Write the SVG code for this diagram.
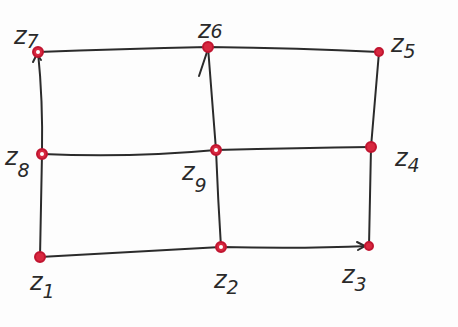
<svg xmlns="http://www.w3.org/2000/svg" width="458" height="327" viewBox="0 0 458 327">
<defs>
<style>
.e{fill:none;stroke:#2b2b2b;stroke-width:2;stroke-linecap:round}
.d{fill:#d8283f;stroke:#c01530;stroke-width:2}
.t{font-family:"DejaVu Sans","Liberation Sans",sans-serif;font-size:24px;fill:#2a2a2a;font-style:italic}
.s{font-size:19px}
</style>
</defs>
<rect width="458" height="327" fill="#fdfdfd"/>
<g id="connectors">
<path class="e" d="M38 52 Q120 49 208 47 Q300 48 379 52"/>
<path class="e" d="M42 154 Q130 158 216 150 Q300 148 371 147"/>
<path class="e" d="M40 257 Q130 252 221 247 Q300 249 369 246"/>
<path class="e" d="M38 52 Q43 100 42 154 Q41 205 40 257"/>
<path class="e" d="M208 47 Q212 100 216 150 Q218 200 221 247"/>
<path class="e" d="M379 52 Q375 100 371 147 Q370 200 369 246"/>
<path class="e" d="M33 62 L37 54 L41 60"/>
<path class="e" d="M199 76 L207 52"/>
<path class="e" d="M357 242 L365 246 L358 250"/>
</g>
<g id="z1"><circle class="d" cx="40" cy="257" r="5"/><text class="t" x="30" y="290">z<tspan class="s" dy="8">1</tspan></text></g>
<g id="z2"><circle class="d" cx="221" cy="247" r="5"/><circle cx="221" cy="247" r="2" fill="#fff"/><text class="t" x="214" y="288">z<tspan class="s" dy="6">2</tspan></text></g>
<g id="z3"><circle class="d" cx="369" cy="246" r="4"/><text class="t" x="342" y="283">z<tspan class="s" dy="8">3</tspan></text></g>
<g id="z4"><circle class="d" cx="371" cy="147" r="5"/><text class="t" x="395" y="166">z<tspan class="s" dy="6">4</tspan></text></g>
<g id="z5"><circle class="d" cx="379" cy="52" r="4"/><text class="t" x="391" y="52">z<tspan class="s" dy="6">5</tspan></text></g>
<g id="z6"><circle class="d" cx="208" cy="47" r="5"/><text class="t" x="198" y="38">z<tspan class="s" dy="0">6</tspan></text></g>
<g id="z7"><circle class="d" cx="38" cy="52" r="5"/><circle cx="38" cy="52" r="2" fill="#fff"/><text class="t" x="14" y="44">z<tspan class="s" dy="4">7</tspan></text></g>
<g id="z8"><circle class="d" cx="42" cy="154" r="5"/><circle cx="42" cy="154" r="2" fill="#fff"/><text class="t" x="5" y="165">z<tspan class="s" dy="12">8</tspan></text></g>
<g id="z9"><circle class="d" cx="216" cy="150" r="5"/><circle cx="216" cy="150" r="2" fill="#fff"/><text class="t" x="182" y="180">z<tspan class="s" dy="12">9</tspan></text></g>
</svg>
